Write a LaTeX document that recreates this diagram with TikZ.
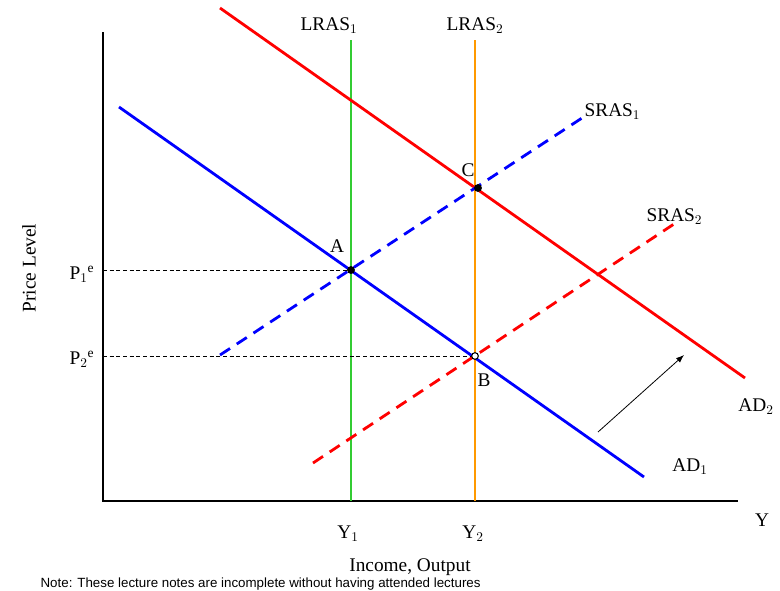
\documentclass[tikz,border=0pt]{standalone}
\usepackage{fontspec}
\setmainfont{Liberation Serif}
\newfontfamily\notefont{Liberation Sans}
\usepackage{xcolor}
\usetikzlibrary{arrows.meta}
\definecolor{lrasgreen}{RGB}{51,204,51}
\definecolor{lrasorange}{RGB}{255,153,0}

\begin{document}
\begin{tikzpicture}[x=0.75pt, y=-0.75pt, font=\fontsize{14.5}{17}\selectfont,
    axis/.style={line width=1.5pt, black},
    curve/.style={line width=2.1pt},
    guide/.style={densely dashed, line width=0.6pt},
    pt/.style={circle, draw, inner sep=0pt, minimum size=5pt, line width=0.8pt},
    lbl/.style={inner sep=1pt}]
  \useasboundingbox (0,0) rectangle (780,590);
  % axes
  \coordinate (o) at (103,501);
  \coordinate (ytop) at (103,32);
  \coordinate (xend) at (738,501);
  \draw[axis] (ytop) -- (o) -- (xend);
  % equilibrium points
  \coordinate (A) at (351,270);
  \coordinate (B) at (475,356);
  \coordinate (C) at (478,188);
  % long run supply
  \coordinate (l1t) at (351,40);  \coordinate (l1b) at (351,501);
  \coordinate (l2t) at (475,40);  \coordinate (l2b) at (475,501);
  \draw[curve, lrasgreen] (l1t) -- (l1b);
  \draw[curve, lrasorange] (l2t) -- (l2b);
  \node[lbl] (lras1) at (329,26) {LRAS$_1$};
  \node[lbl] (lras2) at (475,26) {LRAS$_2$};
  % demand
  \coordinate (ad1s) at (119,107);  \coordinate (ad1e) at (644,477);
  \coordinate (ad2s) at (220,8);    \coordinate (ad2e) at (745,378);
  \draw[curve, blue] (ad1s) -- (ad1e);
  \draw[curve, red] (ad2s) -- (ad2e);
  \node[lbl] (ad1) at (690,467) {AD$_1$};
  \node[lbl] (ad2) at (756,407) {AD$_2$};
  % short run supply
  \coordinate (s1s) at (220,355);  \coordinate (s1e) at (582,118);
  \coordinate (s2s) at (313,463);  \coordinate (s2e) at (677,222);
  \draw[curve, blue, dash pattern=on 9pt off 6pt] (s1s) -- (s1e);
  \draw[curve, red, dash pattern=on 9pt off 6pt] (s2s) -- (s2e);
  \node[lbl, anchor=west] (sras1) at (583,112) {SRAS$_1$};
  \node[lbl, anchor=west] (sras2) at (645,217) {SRAS$_2$};
  % expected prices
  \draw[guide] (A -| o) -- (A);
  \draw[guide] (B -| o) -- (B);
  \node[lbl, anchor=east] (p1) at (96,274) {P$_1$$^{\mathrm{e}}$};
  \node[lbl, anchor=east] (p2) at (96,359) {P$_2$$^{\mathrm{e}}$};
  % points
  \node[pt, fill=black] (ptA) at (A) {};
  \node[pt, fill=white] (ptB) at (B) {};
  \node[pt, fill=black] (ptC) at (C) {};
  \node[lbl] (la) at (337,246) {A};
  \node[lbl] (lb) at (484,380) {B};
  \node[lbl] (lc) at (468,170) {C};
  % shift
  \coordinate (sh1) at (598,432);
  \coordinate (sh2) at (684,355);
  \draw[-{Latex[length=6pt]}, line width=0.6pt] (sh1) -- (sh2);
  % axis labels
  \node[lbl] (y1) at (348,534) {Y$_1$};
  \node[lbl] (y2) at (473,534) {Y$_2$};
  \node[lbl] (yax) at (762,520) {Y};
  \node[lbl] (xlab) at (410,567) {Income, Output};
  \node[lbl, rotate=90] (ylab) at (29,268) {Price Level};
  \node[lbl, anchor=west, font=\notefont\fontsize{10}{11}\selectfont] (note) at (39,584) {Note: These lecture notes are incomplete without having attended lectures};
\end{tikzpicture}
\end{document}
